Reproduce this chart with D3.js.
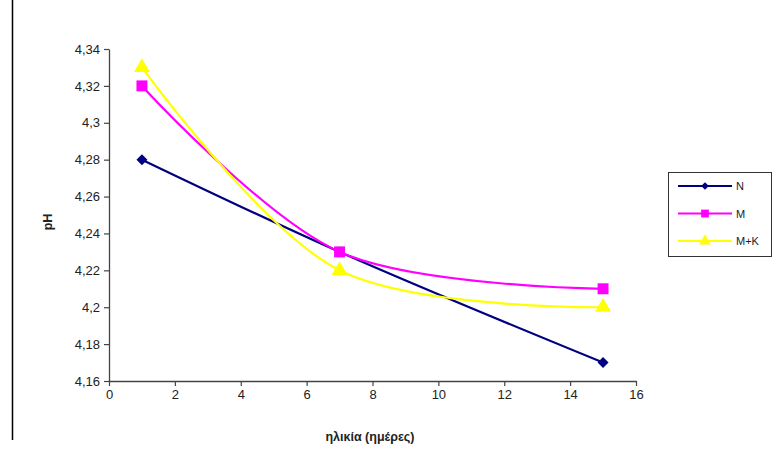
<!DOCTYPE html>
<html>
<head>
<meta charset="utf-8">
<script src="https://cdn.jsdelivr.net/npm/d3@7"></script>
<style>
  body { margin: 0; background: #fff; }
  svg { font-family: "Liberation Sans", Arial, sans-serif; }
</style>
</head>
<body>
<div id="app"></div>
<script>
// data
const days = [1, 7, 15]
const seriesNames = ['N', 'M', 'M+K']
const valuesN = [4.28, 4.23, 4.17]
const valuesM = [4.32, 4.23, 4.21]
const valuesMK = [4.33, 4.22, 4.20]
const xTicks = [0, 2, 4, 6, 8, 10, 12, 14, 16]
const yTicks = [4.16, 4.18, 4.2, 4.22, 4.24, 4.26, 4.28, 4.3, 4.32, 4.34]
const colors = ['#000080', '#ff00ff', '#ffff00']
// diamond = square turned 45deg, like the excel marker
const symbols = [d3.symbolSquare, d3.symbolSquare, d3.symbolTriangle]
const rotations = [45, 0, 0]

const W = 773, H = 465
const svg = d3.select('#app').append('svg')
    .attr('width', W).attr('height', H)

// frame line on the left edge
svg.append('line')
    .attr('x1', 12.5).attr('x2', 12.5)
    .attr('y1', 0).attr('y2', 440)
    .attr('stroke', '#000').attr('stroke-width', 1.5)

const x = d3.scaleLinear().domain([0, 16]).range([109, 636])
const y = d3.scaleLinear().domain([4.16, 4.34]).range([381, 49])

const fmt = v => String(+v.toFixed(2)).replace('.', ',')

const xAxis = svg.append('g')
    .attr('transform', `translate(0,${y(4.16)})`)
    .call(d3.axisBottom(x).tickValues(xTicks).tickSize(5).tickSizeOuter(0))
const yAxis = svg.append('g')
    .attr('transform', `translate(${x(0)},0)`)
    .call(d3.axisLeft(y).tickValues(yTicks).tickFormat(fmt).tickSize(5).tickSizeOuter(0))

for (const ax of [xAxis, yAxis]) {
    ax.select('.domain').attr('stroke', '#444').attr('stroke-width', 1.3)
    ax.selectAll('.tick line').attr('stroke', '#444').attr('stroke-width', 1.2)
    ax.selectAll('.tick text')
        .attr('fill', '#222').style('font-size', '13px')
}
yAxis.selectAll('.tick text').attr('x', -9)
xAxis.selectAll('.tick text').attr('y', 9)

// axis titles
svg.append('text')
    .attr('x', 370).attr('y', 441)
    .attr('text-anchor', 'middle')
    .style('font-size', '12.5px').style('font-weight', 'bold')
    .attr('fill', '#222')
    .text('ηλικία (ημέρες)')
svg.append('text')
    .attr('transform', `translate(52,222) rotate(-90)`)
    .attr('text-anchor', 'middle')
    .style('font-size', '12.5px').style('font-weight', 'bold')
    .attr('fill', '#222')
    .text('pH')

const all = [valuesN, valuesM, valuesMK]
const line = d3.line()
    .x((d, i) => x(days[i]))
    .y(d => y(d))
    .curve(d3.curveCatmullRom.alpha(0.5))

all.forEach((vals, s) => {
    svg.append('path')
        .datum(vals)
        .attr('d', line)
        .attr('fill', 'none')
        .attr('stroke', colors[s])
        .attr('stroke-width', 2.2)
})
all.forEach((vals, s) => {
    svg.selectAll(null)
        .data(vals)
        .join('path')
        .attr('transform', (d, i) => `translate(${x(days[i])},${y(d)}) rotate(${rotations[s]})`)
        .attr('d', d3.symbol().type(symbols[s]).size(s === 0 ? 60 : s === 1 ? 120 : 110))
        .attr('fill', colors[s])
})

// legend
const leg = svg.append('g')
leg.append('rect')
    .attr('x', 668.5).attr('y', 172.5)
    .attr('width', 103).attr('height', 84)
    .attr('fill', '#fff').attr('stroke', '#333').attr('stroke-width', 1)
seriesNames.forEach((name, s) => {
    const ly = 186 + s * 27.5
    leg.append('line')
        .attr('x1', 678).attr('x2', 732)
        .attr('y1', ly).attr('y2', ly)
        .attr('stroke', colors[s]).attr('stroke-width', 2.2)
    leg.append('path')
        .attr('transform', `translate(705,${ly}) rotate(${rotations[s]})`)
        .attr('d', d3.symbol().type(symbols[s]).size(s === 0 ? 30 : 60))
        .attr('fill', colors[s])
    leg.append('text')
        .attr('x', 736).attr('y', ly + 4)
        .style('font-size', '11px')
        .attr('fill', '#222')
        .text(name)
})
</script>
</body>
</html>
